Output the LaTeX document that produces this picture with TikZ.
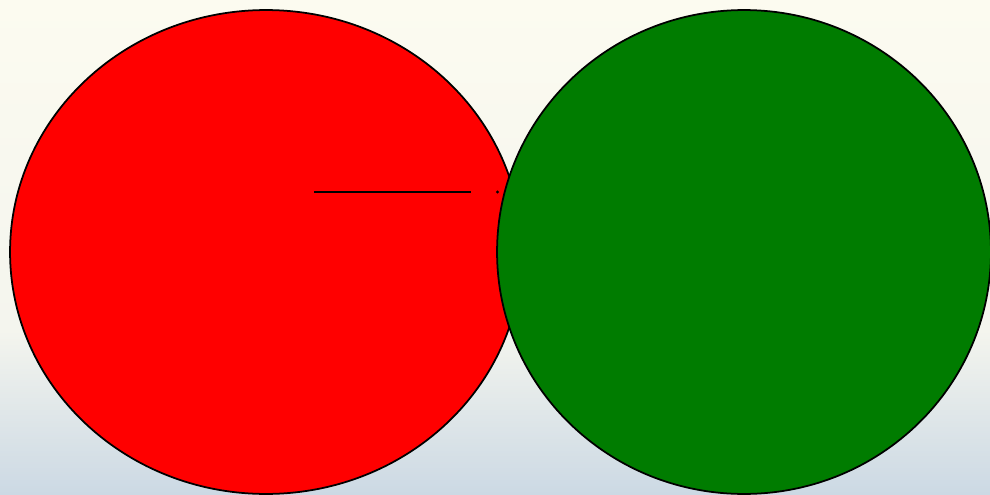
\documentclass[tikz,border=0pt]{standalone}
\usetikzlibrary{shapes.geometric,calc}
\definecolor{bgtop}{HTML}{FCFBF0}
\definecolor{bgmid}{HTML}{F4F5EE}
\definecolor{bgbot}{HTML}{CCD9E4}
\definecolor{blobred}{HTML}{FF0000}
\definecolor{blobgreen}{HTML}{007C00}
\tikzset{
  blob/.style={draw=black,line width=1pt,ellipse,inner sep=0pt},
  link/.style={draw=black,line width=1.4pt},
}
\begin{document}
\begin{tikzpicture}[x=0.02cm,y=-0.02cm]

  % ---- backdrop: cream above, fading to blue-grey near the bottom ----
  \fill[top color=bgtop,bottom color=bgmid] (0,0) rectangle (990,330);
  \fill[top color=bgmid,bottom color=bgbot] (0,330) rectangle (990,494);
  \useasboundingbox (0,0) rectangle (990,494);

  % ---- the two blobs ----
  \node[blob,fill=blobred,minimum width=10.24cm,minimum height=9.68cm]
    (redblob) at (266,252) {};
  \node[blob,fill=blobgreen,minimum width=9.88cm,minimum height=9.68cm]
    (greenblob) at (744,252) {};

  % ---- short link across the red blob ----
  \coordinate (linka) at (314,192);
  \coordinate (linkb) at (471,192);
  \coordinate (linkc) at (497.5,192);
  \draw[link] (linka) -- (linkb);
  \fill (linkc) circle (0.9pt);
\end{tikzpicture}
\end{document}
